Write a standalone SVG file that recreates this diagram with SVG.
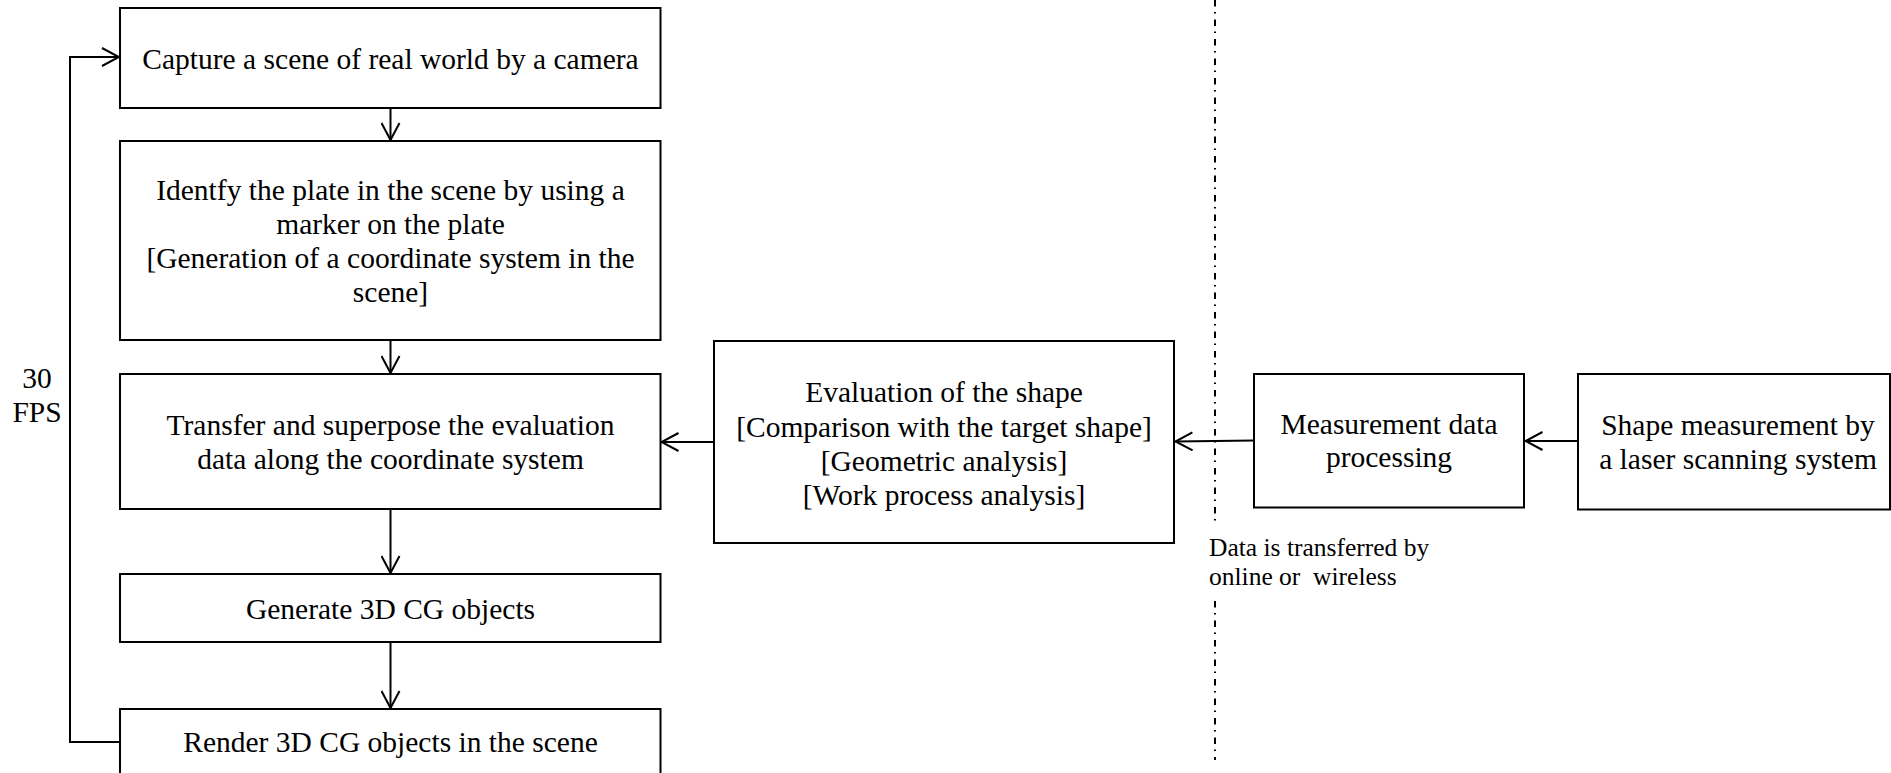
<svg xmlns="http://www.w3.org/2000/svg" width="1891" height="773" viewBox="0 0 1891 773">
  <style>
    .box { fill: #ffffff; stroke: #000000; stroke-width: 2; }
    .txt { font-family: "Liberation Serif", "Times New Roman", serif; font-size: 29.5px; fill: #000000; text-anchor: middle; }
    .note { font-family: "Liberation Serif", "Times New Roman", serif; font-size: 25.5px; fill: #000000; white-space: pre; }
    .link { fill: none; stroke: #000000; stroke-width: 2; }
    .divider { fill: none; stroke: #000000; stroke-width: 2; stroke-dasharray: 6.5 5.5 1.5 6; }
  </style>
  <defs>
    <marker id="open-arrow" viewBox="0 0 20 20" refX="18" refY="10" markerWidth="20" markerHeight="20" markerUnits="userSpaceOnUse" orient="auto">
      <path d="M1 1 L18 10 L1 19" fill="none" stroke="#000000" stroke-width="2"/>
    </marker>
  </defs>

  <rect width="1891" height="773" fill="#ffffff"/>

  <!-- boundary between the measuring side and the display side -->
  <g id="divider">
    <line class="divider" x1="1215" y1="0" x2="1215" y2="521"/>
    <line class="divider" x1="1215" y1="601" x2="1215" y2="760"/>
  </g>

  <g id="connectors">
    <line class="link" x1="390.5" y1="108" x2="390.5" y2="140" marker-end="url(#open-arrow)"/>
    <line class="link" x1="390.5" y1="340" x2="390.5" y2="373" marker-end="url(#open-arrow)"/>
    <line class="link" x1="390.5" y1="509" x2="390.5" y2="573" marker-end="url(#open-arrow)"/>
    <line class="link" x1="390.5" y1="642" x2="390.5" y2="708" marker-end="url(#open-arrow)"/>
    <line class="link" x1="714" y1="442" x2="661.5" y2="442" marker-end="url(#open-arrow)"/>
    <line class="link" x1="1254" y1="440.5" x2="1175.5" y2="441.5" marker-end="url(#open-arrow)"/>
    <line class="link" x1="1578" y1="441" x2="1525.5" y2="441" marker-end="url(#open-arrow)"/>
    <!-- 30 FPS feedback loop -->
    <polyline class="link" points="120,742 70,742 70,57 119,57" marker-end="url(#open-arrow)"/>
  </g>

  <g id="loop-label">
    <text class="txt" x="37" y="388">30</text>
    <text class="txt" x="37" y="422">FPS</text>
  </g>

  <g id="capture">
    <rect class="box" x="120" y="8" width="540.5" height="100"/>
    <text class="txt" x="390.5" y="69">Capture a scene of real world by a camera</text>
  </g>

  <g id="identify">
    <rect class="box" x="120" y="141" width="540.5" height="199"/>
    <text class="txt" x="390.5" y="200">Identfy the plate in the scene by using a</text>
    <text class="txt" x="390.5" y="234">marker on the plate</text>
    <text class="txt" x="390.5" y="268">[Generation of a coordinate system in the</text>
    <text class="txt" x="390.5" y="302">scene]</text>
  </g>

  <g id="transfer">
    <rect class="box" x="120" y="374" width="540.5" height="135"/>
    <text class="txt" x="390.5" y="435">Transfer and superpose the evaluation</text>
    <text class="txt" x="390.5" y="468.5">data along the coordinate system</text>
  </g>

  <g id="generate">
    <rect class="box" x="120" y="574" width="540.5" height="68"/>
    <text class="txt" x="390.5" y="619">Generate 3D CG objects</text>
  </g>

  <g id="render">
    <rect class="box" x="120" y="709" width="540.5" height="70"/>
    <text class="txt" x="390.5" y="752">Render 3D CG objects in the scene</text>
  </g>

  <g id="evaluation">
    <rect class="box" x="714" y="341" width="460" height="202"/>
    <text class="txt" x="944" y="402">Evaluation of the shape</text>
    <text class="txt" x="944" y="436.5">[Comparison with the target shape]</text>
    <text class="txt" x="944" y="470.5">[Geometric analysis]</text>
    <text class="txt" x="944" y="504.5">[Work process analysis]</text>
  </g>

  <g id="processing">
    <rect class="box" x="1254" y="374" width="270" height="133.5"/>
    <text class="txt" x="1389" y="433.5">Measurement data</text>
    <text class="txt" x="1389" y="467">processing</text>
  </g>

  <g id="scanning">
    <rect class="box" x="1578" y="374" width="312" height="135.5"/>
    <text class="txt" x="1738" y="435">Shape measurement by</text>
    <text class="txt" x="1738" y="468.5">a laser scanning system</text>
  </g>

  <g id="transfer-note">
    <text class="note" x="1209" y="556">Data is transferred by</text>
    <text class="note" x="1209" y="584.5">online or  wireless</text>
  </g>
</svg>
